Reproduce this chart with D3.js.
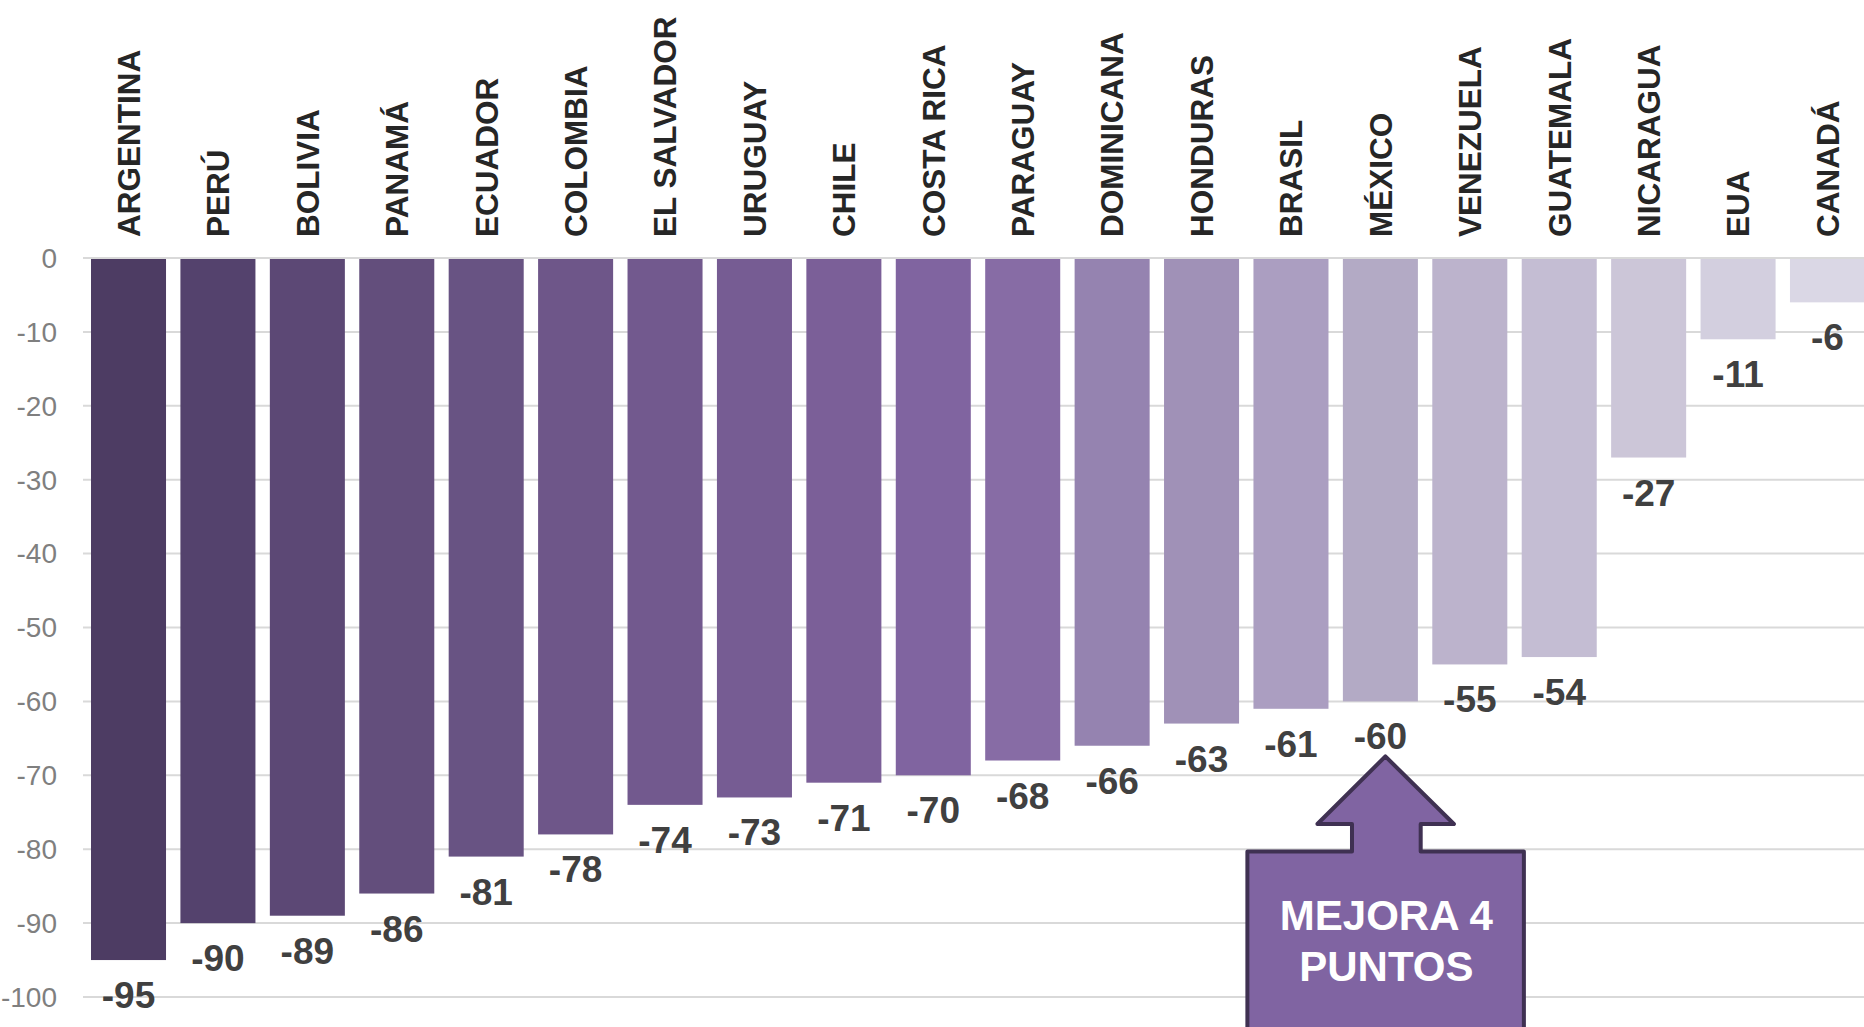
<!DOCTYPE html>
<html>
<head>
<meta charset="utf-8">
<script src="https://cdn.jsdelivr.net/npm/d3@7"></script>
<style>
  html, body { margin: 0; padding: 0; background: #fff; }
  svg { display: block; }
  text { font-family: "Liberation Sans", Arial, sans-serif; }
</style>
</head>
<body>
<svg id="chart" width="1864" height="1027"></svg>
<script>
const categories = ["ARGENTINA","PERÚ","BOLIVIA","PANAMÁ","ECUADOR","COLOMBIA","EL SALVADOR","URUGUAY","CHILE","COSTA RICA","PARAGUAY","DOMINICANA","HONDURAS","BRASIL","MÉXICO","VENEZUELA","GUATEMALA","NICARAGUA","EUA","CANADÁ"];
const values = [-95,-90,-89,-86,-81,-78,-74,-73,-71,-70,-68,-66,-63,-61,-60,-55,-54,-27,-11,-6];
const barColors = ["#4d3c63","#54426d","#5c4875","#634e7c","#685383","#6e5689","#72598e","#765c93","#7b5f98","#8064a0","#876ca5","#9583b0","#a091b7","#ab9ec1","#b3aac5","#bcb3cc","#c4bdd3","#ccc6d8","#d3cfdf","#dad7e5"];
const yTicks = [0,-10,-20,-30,-40,-50,-60,-70,-80,-90,-100];
const calloutLines = ["MEJORA 4","PUNTOS"];
const calloutCategory = "MÉXICO";

const svg = d3.select("#chart");

const x = d3.scaleBand().domain(categories).range([83.8, 1872.2])
  .paddingInner(0.161).paddingOuter(0.0805);
const y = d3.scaleLinear().domain([0, -100]).range([258, 997]);

// gridlines
svg.append("g").selectAll("line").data(yTicks).join("line")
  .attr("x1", 83).attr("x2", 1864)
  .attr("y1", d => y(d)).attr("y2", d => y(d))
  .attr("stroke", "#d9d9d9").attr("stroke-width", 2);

// y tick labels
svg.append("g").selectAll("text").data(yTicks).join("text")
  .attr("x", 57).attr("y", d => y(d)).attr("dy", "0.35em")
  .attr("text-anchor", "end").attr("font-size", 28).attr("fill", "#7f7f7f")
  .text(d => d);

// bars
svg.append("g").selectAll("rect").data(categories).join("rect")
  .attr("x", d => x(d)).attr("width", x.bandwidth())
  .attr("y", y(0) + 1)
  .attr("height", (d, i) => y(values[i]) - y(0) - 1)
  .attr("fill", (d, i) => barColors[i]);

// value labels
svg.append("g").selectAll("text").data(categories).join("text")
  .attr("x", d => x(d) + x.bandwidth() / 2)
  .attr("y", (d, i) => y(values[i]) + 48)
  .attr("text-anchor", "middle").attr("font-size", 37).attr("font-weight", "bold")
  .attr("fill", "#404040")
  .text((d, i) => values[i]);

// category labels (rotated)
svg.append("g").selectAll("text").data(categories).join("text")
  .attr("transform", d => `translate(${x(d) + x.bandwidth() / 2},237) rotate(-90)`)
  .attr("dy", "0.36em")
  .attr("text-anchor", "start").attr("font-size", 31.5).attr("font-weight", "bold")
  .attr("fill", "#262626")
  .text(d => d);

// callout arrow
const cx = x(calloutCategory) + x.bandwidth() / 2 + 5;
const ty = y(values[categories.indexOf(calloutCategory)]) + 55;
const pts = [
  [cx, ty],
  [cx + 68.5, ty + 67.6],
  [cx + 35.3, ty + 67.6],
  [cx + 35.3, ty + 95],
  [cx + 138.5, ty + 95],
  [cx + 138.5, 1040],
  [cx - 138, 1040],
  [cx - 138, ty + 95],
  [cx - 33.4, ty + 95],
  [cx - 33.4, ty + 67.6],
  [cx - 68, ty + 67.6]
];
svg.append("path")
  .attr("d", d3.line()(pts) + "Z")
  .attr("fill", "#8064a2").attr("stroke", "#3f3152").attr("stroke-width", 4)
  .attr("stroke-linejoin", "round");

svg.append("g").selectAll("text").data(calloutLines).join("text")
  .attr("x", cx + 1).attr("y", (d, i) => ty + 174 + i * 50.3)
  .attr("text-anchor", "middle").attr("font-size", 42).attr("font-weight", "bold")
  .attr("fill", "#ffffff")
  .text(d => d);
</script>
</body>
</html>
